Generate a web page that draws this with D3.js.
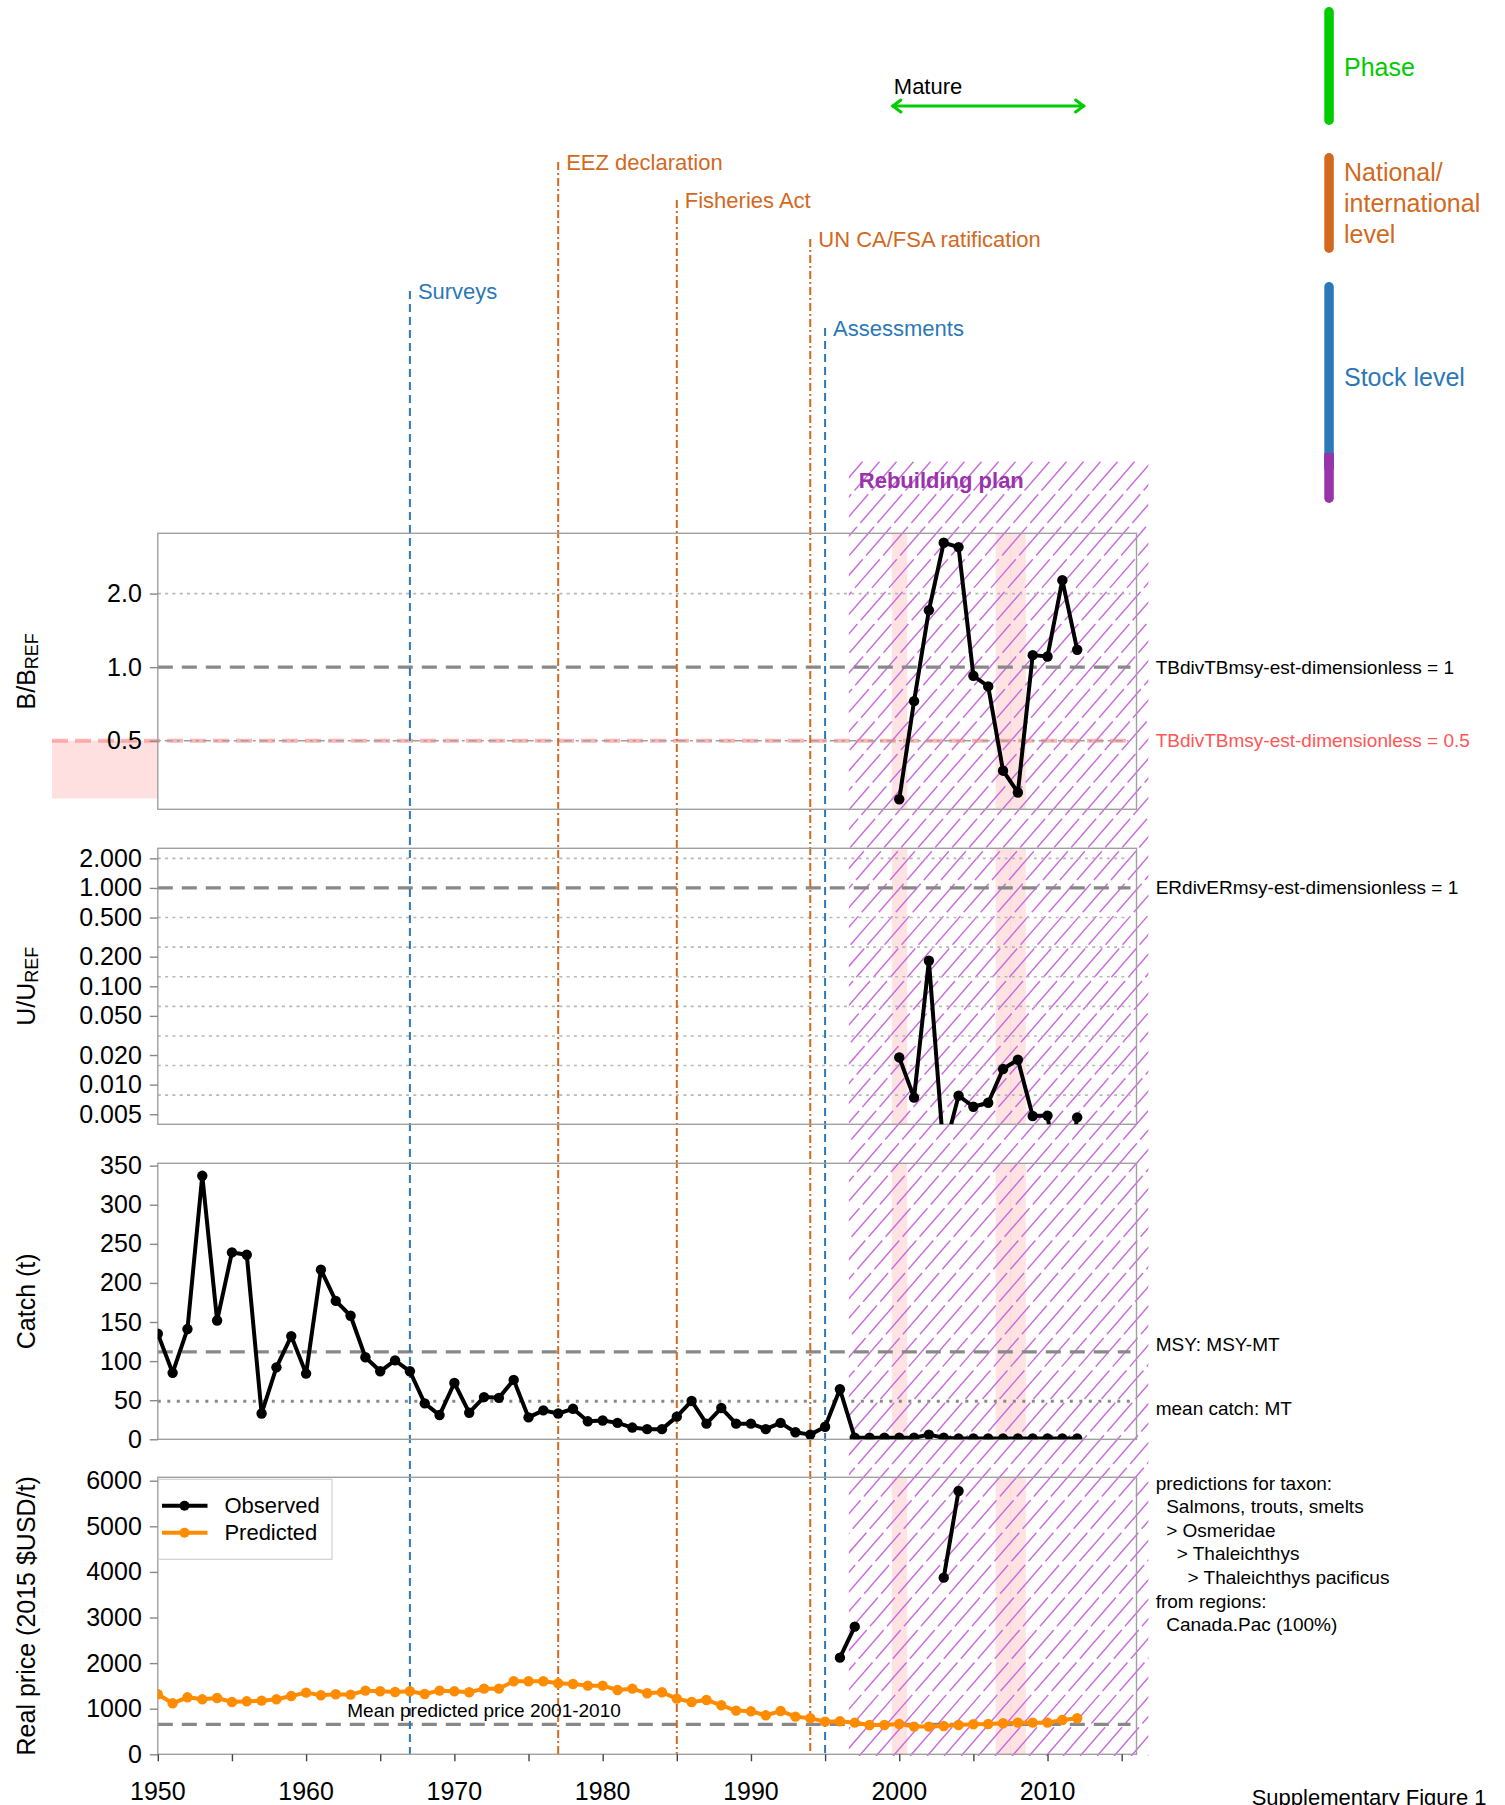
<!DOCTYPE html>
<html><head><meta charset="utf-8">
<script src="https://cdn.jsdelivr.net/npm/d3@7"></script>
<style>
body{margin:0;background:#fff}
svg{display:block;font-family:"Liberation Sans",Arial,Helvetica,sans-serif}
</style>
</head><body>
<svg id="c" width="1505" height="1805"></svg>
<script>
// ---------------- DATA ----------------
const years = [1950,1951,1952,1953,1954,1955,1956,1957,1958,1959,1960,1961,1962,1963,1964,1965,1966,1967,1968,1969,
  1970,1971,1972,1973,1974,1975,1976,1977,1978,1979,1980,1981,1982,1983,1984,1985,1986,1987,1988,1989,
  1990,1991,1992,1993,1994,1995,1996,1997,1998,1999,2000,2001,2002,2003,2004,2005,2006,2007,2008,2009,
  2010,2011,2012];
const catchValues = [135,85,141,337,152,239,236,33,92,132,84,217,177,158,105,87,101,87,46,31,
  72,34,54,53,76,28,37,33,39,23,24,21,15,13,13,29,49,20,40,20,
  20,13,21,9,6,16,64,2,2,2,2,2,6,2,1,1,1,1,1,1,
  1,1,1];
const pricePredicted = [1316,1118,1250,1206,1235,1148,1162,1177,1206,1279,1352,1294,1316,1308,1396,1382,1367,1382,1323,1396,
  1382,1360,1440,1440,1601,1601,1601,1557,1542,1506,1506,1411,1440,1338,1360,1221,1148,1192,1075,958,
  943,855,950,826,790,716,724,694,643,643,665,607,607,621,643,658,665,680,694,694,
  694,753,790];
const obsPriceYears = [1996,1997,1998,1999,2000,2001,2002,2003,2004];
const obsPrice = [2120,2800,null,null,null,null,null,3874,5775];
const stockYears = [2000,2001,2002,2003,2004,2005,2006,2007,2008,2009,2010,2011,2012];
const bRatio = [0.288,0.726,1.709,3.23,3.10,0.922,0.834,0.377,0.307,1.12,1.106,2.27,1.178];
const uRatio = [0.0189,0.00737,0.182,0.002,0.00772,0.00596,0.00655,0.0144,0.0179,0.0048,0.00484,0.0005,0.00465];

const xTickYears = [1950,1955,1960,1965,1970,1975,1980,1985,1990,1995,2000,2005,2010,2015];
const xLabelYears = [1950,1960,1970,1980,1990,2000,2010];
const bTicks = [0.5,1,2];
const uTicks = [2,1,0.5,0.2,0.1,0.05,0.02,0.01,0.005];
const uGrid = [2,0.5,0.25,0.125,0.0625,0.03125,0.015625,0.0078125];
const catchTicks = [0,50,100,150,200,250,300,350];
const priceTicks = [0,1000,2000,3000,4000,5000,6000];

const eventYears = [1967,1977,1985,1994,1995];
const eventLabels = ["Surveys","EEZ declaration","Fisheries Act","UN CA/FSA ratification","Assessments"];
const eventKinds = ["stock","national","national","national","stock"];

const bLimit = 0.5, bTarget = 1;
const msyValue = 111.7, meanCatchValue = 48.6, meanPriceValue = 656;
const highlightYears = [2000,2007,2008];
const rebuildStart = 1996.6, rebuildEnd = 2016.8;
const matureStart = 1999.5, matureEnd = 2012.5;
const taxonLines = ["predictions for taxon:","Salmons, trouts, smelts","> Osmeridae","> Thaleichthys","> Thaleichthys pacificus","from regions:","Canada.Pac (100%)"];
const taxonIndent = [0,1,1,2,3,0,1];

// ---------------- LAYOUT ----------------
const svg = d3.select("#c");
const FONT = '"Liberation Sans",Arial,sans-serif';
const X0 = 157.8, X1 = 1136.5;
const x = d3.scaleLinear().domain([1950,2016]).range([X0,X1]);
const P = {
  b: {top:533.3, bot:809.3},
  u: {top:848.3, bot:1124.3},
  c: {top:1163.3, bot:1439.3},
  p: {top:1477.3, bot:1754.3}
};
const yB = d3.scaleLog().domain([0.262,3.53]).range([P.b.bot,P.b.top]);
const yU = d3.scaleLog().domain([0.00395,2.53]).range([P.u.bot,P.u.top]);
const yC = d3.scaleLinear().domain([0,353]).range([P.c.bot,P.c.top]);
const yP = d3.scaleLinear().domain([0,6075]).range([P.p.bot,P.p.top]);

const COL = {
  stock:"#2C78B8", national:"#D2691E", green:"#00CC00", purple:"#9933AA",
  hatch:"#CC6FDD", orange:"#FF8C00", grid:"#b8b8b8", dash:"#888888", border:"#a0a0a0"
};

const defs = svg.append("defs");
Object.entries(P).forEach(([k,p])=>{
  defs.append("clipPath").attr("id","clip-"+k).append("rect")
    .attr("x",X0).attr("y",p.top).attr("width",X1-X0).attr("height",p.bot-p.top);
});

// pink highlight bands
const bandG = svg.append("g");
Object.values(P).forEach(p=>{
  bandG.selectAll(null).data(highlightYears).join("rect")
    .attr("x",d=>x(d-0.5)).attr("width",d=>x(d+0.5)-x(d-0.5)+0.6)
    .attr("y",p.top).attr("height",p.bot-p.top)
    .attr("fill","#ff9999").attr("fill-opacity",0.28);
});

// limit zone marker (left of panel 1)
svg.append("rect").attr("x",52).attr("width",X0-52)
  .attr("y",yB(bLimit)).attr("height",yB(0.29)-yB(bLimit))
  .attr("fill","#ffe0e0");

// hatch (rebuilding plan)
const hx0 = x(rebuildStart), hx1 = x(rebuildEnd), hy0 = 458, hy1 = 1756;
defs.append("clipPath").attr("id","hclip").append("rect")
  .attr("x",hx0).attr("y",hy0).attr("width",hx1-hx0).attr("height",hy1-hy0);
const hg = svg.append("g").attr("clip-path","url(#hclip)");
const slope = 1.15, run = (hy1-hy0)/slope, hstep = 17;
const hatchOffsets = d3.range(hx0-run, hx1+hstep, hstep);
hg.selectAll("line").data(hatchOffsets).join("line")
  .attr("x1",d=>d).attr("y1",hy1).attr("x2",d=>d+run).attr("y2",hy0)
  .attr("stroke",COL.hatch).attr("stroke-width",1.5).attr("stroke-dasharray","38,5");
svg.append("text").attr("x",hx0+10).attr("y",480).attr("dominant-baseline","central")
  .attr("font-size",22).attr("font-weight","bold").attr("fill",COL.purple).text("Rebuilding plan");

// ---------------- Grid lines ----------------
function hline(y, x1, x2, stroke, w, dash, op){
  svg.append("line").attr("x1",x1).attr("x2",x2).attr("y1",y).attr("y2",y)
    .attr("stroke",stroke).attr("stroke-width",w).attr("stroke-dasharray",dash)
    .attr("stroke-opacity",op==null?1:op);
}
// panel 1
hline(yB(2), X0, X1-6, COL.grid, 1.6, "3,4.3");
hline(yB(bTarget), X0, X1-6, COL.dash, 3.2, "15,9");
hline(yB(bLimit), 52, X1-8, "#ff8080", 4, "16,7", 0.6);
hline(yB(bLimit), X0, X1-8, "#a0a0a0", 1.6, "3,4,8,4");
// panel 2
uGrid.forEach(v=>hline(yU(v), X0, X1-6, COL.grid, 1.6, "3,4.3"));
hline(yU(1), X0, X1-6, COL.dash, 3.2, "15,9");
// panel 3
hline(yC(msyValue), X0, X1-6, COL.dash, 3.2, "15,9");
hline(yC(meanCatchValue), X0, X1-6, "#888", 3, "3,6.5");
// panel 4
hline(yP(meanPriceValue), X0, X1-6, COL.dash, 3.2, "15,9");

// ---------------- Event lines ----------------
const eventTops = [291,162,200,239,328];
eventYears.forEach((yr,i)=>{
  const kind = eventKinds[i];
  const c = COL[kind];
  svg.append("line").attr("x1",x(yr)).attr("x2",x(yr)).attr("y1",eventTops[i]).attr("y2",P.p.bot)
    .attr("stroke",c).attr("stroke-width",2)
    .attr("stroke-dasharray", kind==="stock" ? "8,5" : "8,3,2,3");
  svg.append("text").attr("x",x(yr)+8).attr("y",eventTops[i]).attr("dominant-baseline","central")
    .attr("font-size",22).attr("fill",c).text(eventLabels[i]);
});

// ---------------- Panel borders + axes ----------------
Object.values(P).forEach(p=>{
  svg.append("rect").attr("x",X0).attr("y",p.top).attr("width",X1-X0).attr("height",p.bot-p.top)
    .attr("fill","none").attr("stroke",COL.border).attr("stroke-width",1.4);
});
function yAxis(scale, ticks, fmt){
  const g = svg.append("g").attr("transform",`translate(${X0},0)`)
    .call(d3.axisLeft(scale).tickValues(ticks).tickFormat(fmt).tickSize(8).tickPadding(8));
  g.select(".domain").remove();
  g.selectAll(".tick line").attr("stroke","#888").attr("stroke-width",1.4);
  g.selectAll(".tick text").attr("font-size",25).attr("font-family",FONT).attr("fill","#000");
}
yAxis(yB, bTicks, d3.format(".1f"));
yAxis(yU, uTicks, d3.format(".3f"));
yAxis(yC, catchTicks, d3.format("d"));
yAxis(yP, priceTicks, d3.format("d"));

const xg = svg.append("g").attr("transform",`translate(0,${P.p.bot})`)
  .call(d3.axisBottom(x).tickValues(xTickYears).tickFormat("").tickSize(7));
xg.select(".domain").remove();
xg.selectAll(".tick line").attr("stroke","#444").attr("stroke-width",1.4);
svg.append("g").selectAll("text").data(xLabelYears).join("text")
  .attr("x",d=>x(d)).attr("y",1800).attr("text-anchor","middle")
  .attr("font-size",25).text(d=>d);

// Axis titles
function ytitle(cy, build){
  const t = svg.append("text").attr("transform",`translate(35,${cy}) rotate(-90)`)
    .attr("text-anchor","middle").attr("font-size",25);
  build(t);
}
ytitle((P.b.top+P.b.bot)/2, t=>{ t.append("tspan").text("B/B"); t.append("tspan").attr("font-size",18).attr("dy",3).text("REF"); });
ytitle((P.u.top+P.u.bot)/2, t=>{ t.append("tspan").text("U/U"); t.append("tspan").attr("font-size",18).attr("dy",3).text("REF"); });
ytitle((P.c.top+P.c.bot)/2, t=>t.text("Catch (t)"));
ytitle((P.p.top+P.p.bot)/2, t=>t.text("Real price (2015 $USD/t)"));

// ---------------- Data series ----------------
function series(clipKey, xs, vs, yScale, color){
  const pts = xs.map((d,i)=>({x:d,v:vs[i]}));
  const g = svg.append("g").attr("clip-path",`url(#clip-${clipKey})`);
  const line = d3.line().defined(d=>d.v!=null).x(d=>x(d.x)).y(d=>yScale(d.v));
  g.append("path").attr("d",line(pts)).attr("fill","none").attr("stroke",color)
    .attr("stroke-width",4).attr("stroke-linejoin","round");
  g.selectAll("circle").data(pts.filter(d=>d.v!=null)).join("circle")
    .attr("cx",d=>x(d.x)).attr("cy",d=>yScale(d.v)).attr("r",5.2).attr("fill",color);
}
series("b", stockYears, bRatio, yB, "#000");
series("u", stockYears, uRatio, yU, "#000");
series("c", years, catchValues, yC, "#000");
series("p", years, pricePredicted, yP, COL.orange);
series("p", obsPriceYears, obsPrice, yP, "#000");

// ---------------- Right annotations ----------------
const RX = 1155.7;
function rtext(y, txt, color){
  svg.append("text").attr("x",RX).attr("y",y).attr("dominant-baseline","central")
    .attr("font-size",19).attr("fill",color||"#000").text(txt);
}
rtext(yB(bTarget), "TBdivTBmsy-est-dimensionless = 1");
rtext(yB(bLimit), "TBdivTBmsy-est-dimensionless = 0.5", "#FF5555");
rtext(yU(1), "ERdivERmsy-est-dimensionless = 1");
rtext(yC(msyValue)-7, "MSY: MSY-MT");
rtext(yC(meanCatchValue)+7, "mean catch: MT");
const indentPx = [0,10.5,21,31.8];
taxonLines.forEach((t,i)=>{
  svg.append("text").attr("x",RX + indentPx[taxonIndent[i]]).attr("y",1483.3+i*23.55)
    .attr("dominant-baseline","central").attr("font-size",19).text(t);
});
svg.append("text").attr("x",x(1972)).attr("y",1717).attr("text-anchor","middle")
  .attr("font-size",19).text("Mean predicted price 2001-2010");

// Legend
const lg = svg.append("g");
lg.append("rect").attr("x",158.5).attr("y",1479.3).attr("width",173.5).attr("height",80)
  .attr("fill","#fff").attr("stroke","#d0d0d0").attr("stroke-width",1.2);
[["Observed","#000",1505.7],["Predicted",COL.orange,1532.7]].forEach(([lab,c,y])=>{
  lg.append("line").attr("x1",162).attr("x2",207.5).attr("y1",y).attr("y2",y).attr("stroke",c).attr("stroke-width",4);
  lg.append("circle").attr("cx",184.5).attr("cy",y).attr("r",5).attr("fill",c);
  lg.append("text").attr("x",224.4).attr("y",y).attr("dominant-baseline","central").attr("font-size",22).text(lab);
});

// ---------------- Top: phase / levels ----------------
const ax0 = x(matureStart), ax1 = x(matureEnd), ay = 106;
svg.append("line").attr("x1",ax0).attr("x2",ax1).attr("y1",ay).attr("y2",ay)
  .attr("stroke",COL.green).attr("stroke-width",3);
svg.append("path").attr("d",`M${ax0+9},${ay-6}L${ax0+1},${ay}L${ax0+9},${ay+6}M${ax1-9},${ay-6}L${ax1-1},${ay}L${ax1-9},${ay+6}`)
  .attr("fill","none").attr("stroke",COL.green).attr("stroke-width",3).attr("stroke-linecap","round");
svg.append("text").attr("x",ax0+2).attr("y",86).attr("dominant-baseline","central")
  .attr("font-size",22).text("Mature");

const BX = 1324.3, BW = 9.5;
function bar(y0,y1,c){ svg.append("rect").attr("x",BX).attr("width",BW).attr("y",y0).attr("height",y1-y0).attr("rx",4.75).attr("fill",c); }
bar(7,125,COL.green);
bar(153,253,COL.national);
bar(282,470,COL.stock);
bar(453,503,COL.purple);
svg.append("rect").attr("x",BX).attr("width",BW).attr("y",453).attr("height",17).attr("fill",COL.purple);
function ltext(y,t,c){ svg.append("text").attr("x",1344).attr("y",y).attr("dominant-baseline","central").attr("font-size",25).attr("fill",c).text(t); }
ltext(66.7,"Phase",COL.green);
ltext(172,"National/",COL.national);
ltext(203,"international",COL.national);
ltext(234,"level",COL.national);
ltext(377,"Stock level",COL.stock);

svg.append("text").attr("x",1251.7).attr("y",1805).attr("font-size",22).text("Supplementary Figure 1");
</script>
</body></html>
